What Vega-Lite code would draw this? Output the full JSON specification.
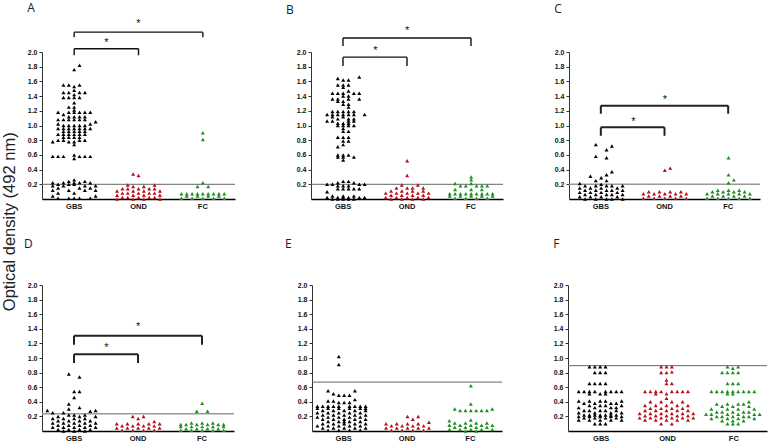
{
"$schema":"https://vega.github.io/schema/vega-lite/v6.json",
"padding":{"left":1,"top":2,"right":2,"bottom":2},
"background":"white",
"title":{"text":"Optical density (492 nm)","orient":"left","anchor":"middle","font":"Liberation Sans","fontSize":16.5,"fontWeight":"normal","color":"#222","offset":6},
"config":{"view":{"stroke":null},"title":{"font":"Open Sans","fontSize":12,"fontWeight":"normal","color":"#222","anchor":"start"},
"axisX":{"ticks":false,"labelAngle":0,"labelFont":"Liberation Sans","labelFontWeight":"bold","labelFontSize":7.5,"labelColor":"#111","domainColor":"#000","domainWidth":1.6,"labelPadding":3,"grid":false},
"axisY":{"labelFont":"Liberation Sans","labelFontWeight":"bold","labelFontSize":7,"labelColor":"#111","domainColor":"#333","tickColor":"#333","tickSize":3,"labelPadding":2,"grid":false,"labelOverlap":false,"labelBound":false,"tickCount":10}},
"datasets":{
"cut":[{"p":"A","v":0.2},{"p":"B","v":0.2},{"p":"C","v":0.2},{"p":"D","v":0.235},{"p":"E","v":0.67},{"p":"F","v":0.895}],
"br":[
{"p":"A","g1":"GBS","g2":"OND","y1":2.045,"y2":1.955,"ya":2.12,"ag":"GBS","ao":6},
{"p":"A","g1":"GBS","g2":"FC","y1":2.27,"y2":2.2,"ya":2.38,"ag":"OND","ao":0},
{"p":"B","g1":"GBS","g2":"OND","y1":1.93,"y2":1.81,"ya":2.01,"ag":"GBS","ao":6},
{"p":"B","g1":"GBS","g2":"FC","y1":2.19,"y2":2.08,"ya":2.28,"ag":"OND","ao":0},
{"p":"C","g1":"GBS","g2":"OND","y1":0.976,"y2":0.86,"ya":1.05,"ag":"GBS","ao":6},
{"p":"C","g1":"GBS","g2":"FC","y1":1.27,"y2":1.16,"ya":1.35,"ag":"OND","ao":0},
{"p":"D","g1":"GBS","g2":"OND","y1":1.05,"y2":0.93,"ya":1.14,"ag":"GBS","ao":6},
{"p":"D","g1":"GBS","g2":"FC","y1":1.305,"y2":1.18,"ya":1.43,"ag":"OND","ao":0}
],
"pts":[
{"p":"A","g":"GBS","v":1.82,"c":1},{"p":"A","g":"GBS","v":1.76,"c":0},
{"p":"A","g":"GBS","v":1.55,"c":-2},{"p":"A","g":"GBS","v":1.55,"c":-1},{"p":"A","g":"GBS","v":1.55,"c":1},{"p":"A","g":"GBS","v":1.53,"c":0},{"p":"A","g":"GBS","v":1.48,"c":0},
{"p":"A","g":"GBS","v":1.45,"c":-2},{"p":"A","g":"GBS","v":1.45,"c":-1},{"p":"A","g":"GBS","v":1.45,"c":1},{"p":"A","g":"GBS","v":1.45,"c":2},{"p":"A","g":"GBS","v":1.42,"c":0},
{"p":"A","g":"GBS","v":1.38,"c":-2},{"p":"A","g":"GBS","v":1.38,"c":-1},{"p":"A","g":"GBS","v":1.38,"c":0},{"p":"A","g":"GBS","v":1.38,"c":1},{"p":"A","g":"GBS","v":1.31,"c":0},
{"p":"A","g":"GBS","v":1.25,"c":-1},{"p":"A","g":"GBS","v":1.25,"c":0},{"p":"A","g":"GBS","v":1.21,"c":0},
{"p":"A","g":"GBS","v":1.18,"c":-3},{"p":"A","g":"GBS","v":1.18,"c":-1},{"p":"A","g":"GBS","v":1.18,"c":0},{"p":"A","g":"GBS","v":1.18,"c":1},{"p":"A","g":"GBS","v":1.18,"c":2},{"p":"A","g":"GBS","v":1.18,"c":3},
{"p":"A","g":"GBS","v":1.15,"c":-2},{"p":"A","g":"GBS","v":1.12,"c":-1},{"p":"A","g":"GBS","v":1.12,"c":0},{"p":"A","g":"GBS","v":1.12,"c":1},{"p":"A","g":"GBS","v":1.12,"c":2},
{"p":"A","g":"GBS","v":1.08,"c":-3},{"p":"A","g":"GBS","v":1.08,"c":-2},{"p":"A","g":"GBS","v":1.08,"c":-1},{"p":"A","g":"GBS","v":1.08,"c":0},{"p":"A","g":"GBS","v":1.08,"c":1},{"p":"A","g":"GBS","v":1.08,"c":2},
{"p":"A","g":"GBS","v":1.05,"c":4},{"p":"A","g":"GBS","v":1.02,"c":-3},{"p":"A","g":"GBS","v":1.02,"c":3},
{"p":"A","g":"GBS","v":1.0,"c":-2},{"p":"A","g":"GBS","v":1.0,"c":-1},{"p":"A","g":"GBS","v":1.0,"c":0},{"p":"A","g":"GBS","v":1.0,"c":1},{"p":"A","g":"GBS","v":1.0,"c":2},
{"p":"A","g":"GBS","v":0.96,"c":-3},{"p":"A","g":"GBS","v":0.96,"c":-2},{"p":"A","g":"GBS","v":0.96,"c":-1},{"p":"A","g":"GBS","v":0.96,"c":0},{"p":"A","g":"GBS","v":0.96,"c":1},{"p":"A","g":"GBS","v":0.96,"c":2},{"p":"A","g":"GBS","v":0.96,"c":3},
{"p":"A","g":"GBS","v":0.92,"c":-2},{"p":"A","g":"GBS","v":0.92,"c":-1},{"p":"A","g":"GBS","v":0.92,"c":0},{"p":"A","g":"GBS","v":0.92,"c":1},{"p":"A","g":"GBS","v":0.92,"c":2},
{"p":"A","g":"GBS","v":0.88,"c":-3},{"p":"A","g":"GBS","v":0.88,"c":-2},{"p":"A","g":"GBS","v":0.88,"c":-1},{"p":"A","g":"GBS","v":0.88,"c":0},{"p":"A","g":"GBS","v":0.88,"c":1},{"p":"A","g":"GBS","v":0.88,"c":2},
{"p":"A","g":"GBS","v":0.84,"c":-2},{"p":"A","g":"GBS","v":0.84,"c":-1},{"p":"A","g":"GBS","v":0.84,"c":0},{"p":"A","g":"GBS","v":0.84,"c":1},
{"p":"A","g":"GBS","v":0.8,"c":-3},{"p":"A","g":"GBS","v":0.8,"c":-2},{"p":"A","g":"GBS","v":0.8,"c":1},{"p":"A","g":"GBS","v":0.8,"c":2},
{"p":"A","g":"GBS","v":0.78,"c":-4},{"p":"A","g":"GBS","v":0.78,"c":-1},{"p":"A","g":"GBS","v":0.78,"c":0},{"p":"A","g":"GBS","v":0.74,"c":0},
{"p":"A","g":"GBS","v":0.6,"c":0},{"p":"A","g":"GBS","v":0.58,"c":-4},{"p":"A","g":"GBS","v":0.58,"c":-3},{"p":"A","g":"GBS","v":0.58,"c":-2},{"p":"A","g":"GBS","v":0.58,"c":1},{"p":"A","g":"GBS","v":0.58,"c":2},{"p":"A","g":"GBS","v":0.58,"c":3},{"p":"A","g":"GBS","v":0.55,"c":0},
{"p":"A","g":"GBS","v":0.26,"c":0},{"p":"A","g":"GBS","v":0.24,"c":-1},{"p":"A","g":"GBS","v":0.24,"c":2},
{"p":"A","g":"GBS","v":0.22,"c":-4},{"p":"A","g":"GBS","v":0.22,"c":-2},{"p":"A","g":"GBS","v":0.22,"c":0},{"p":"A","g":"GBS","v":0.22,"c":1},{"p":"A","g":"GBS","v":0.22,"c":3},
{"p":"A","g":"GBS","v":0.2,"c":-3},{"p":"A","g":"GBS","v":0.2,"c":-1},{"p":"A","g":"GBS","v":0.2,"c":0},
{"p":"A","g":"GBS","v":0.18,"c":-4},{"p":"A","g":"GBS","v":0.18,"c":-2},{"p":"A","g":"GBS","v":0.18,"c":2},{"p":"A","g":"GBS","v":0.18,"c":4},
{"p":"A","g":"GBS","v":0.15,"c":-3},{"p":"A","g":"GBS","v":0.15,"c":1},{"p":"A","g":"GBS","v":0.15,"c":3},
{"p":"A","g":"GBS","v":0.12,"c":-4},{"p":"A","g":"GBS","v":0.12,"c":-1},{"p":"A","g":"GBS","v":0.12,"c":2},{"p":"A","g":"GBS","v":0.12,"c":4},
{"p":"A","g":"GBS","v":0.08,"c":-3},{"p":"A","g":"GBS","v":0.08,"c":0},{"p":"A","g":"GBS","v":0.04,"c":-4},{"p":"A","g":"GBS","v":0.04,"c":4},
{"p":"A","g":"GBS","v":0.01,"c":-3},{"p":"A","g":"GBS","v":0.01,"c":-1},{"p":"A","g":"GBS","v":0.01,"c":0},{"p":"A","g":"GBS","v":0.01,"c":1},{"p":"A","g":"GBS","v":0.01,"c":3},
{"p":"A","g":"OND","v":0.34,"c":-1},{"p":"A","g":"OND","v":0.32,"c":0},{"p":"A","g":"OND","v":0.19,"c":-2},{"p":"A","g":"OND","v":0.19,"c":3},{"p":"A","g":"OND","v":0.17,"c":-1},{"p":"A","g":"OND","v":0.17,"c":1},
{"p":"A","g":"OND","v":0.14,"c":-3},{"p":"A","g":"OND","v":0.14,"c":-2},{"p":"A","g":"OND","v":0.14,"c":0},{"p":"A","g":"OND","v":0.14,"c":2},{"p":"A","g":"OND","v":0.14,"c":3},
{"p":"A","g":"OND","v":0.11,"c":-4},{"p":"A","g":"OND","v":0.11,"c":-1},{"p":"A","g":"OND","v":0.11,"c":1},{"p":"A","g":"OND","v":0.11,"c":4},
{"p":"A","g":"OND","v":0.08,"c":-3},{"p":"A","g":"OND","v":0.08,"c":-2},{"p":"A","g":"OND","v":0.08,"c":0},{"p":"A","g":"OND","v":0.08,"c":2},{"p":"A","g":"OND","v":0.08,"c":3},
{"p":"A","g":"OND","v":0.05,"c":-4},{"p":"A","g":"OND","v":0.05,"c":-1},{"p":"A","g":"OND","v":0.05,"c":1},{"p":"A","g":"OND","v":0.05,"c":4},
{"p":"A","g":"OND","v":0.02,"c":-3},{"p":"A","g":"OND","v":0.02,"c":-2},{"p":"A","g":"OND","v":0.02,"c":0},{"p":"A","g":"OND","v":0.02,"c":2},{"p":"A","g":"OND","v":0.02,"c":3},
{"p":"A","g":"OND","v":0.0,"c":-4},{"p":"A","g":"OND","v":0.0,"c":-1},{"p":"A","g":"OND","v":0.0,"c":1},{"p":"A","g":"OND","v":0.0,"c":4},
{"p":"A","g":"FC","v":0.9,"c":0},{"p":"A","g":"FC","v":0.81,"c":0},{"p":"A","g":"FC","v":0.22,"c":0},{"p":"A","g":"FC","v":0.17,"c":-1},{"p":"A","g":"FC","v":0.17,"c":1},
{"p":"A","g":"FC","v":0.07,"c":-4},{"p":"A","g":"FC","v":0.07,"c":-3},{"p":"A","g":"FC","v":0.07,"c":-2},{"p":"A","g":"FC","v":0.07,"c":-1},{"p":"A","g":"FC","v":0.07,"c":0},{"p":"A","g":"FC","v":0.07,"c":1},{"p":"A","g":"FC","v":0.07,"c":2},{"p":"A","g":"FC","v":0.07,"c":3},{"p":"A","g":"FC","v":0.07,"c":4},
{"p":"A","g":"FC","v":0.04,"c":-3},{"p":"A","g":"FC","v":0.04,"c":-1},{"p":"A","g":"FC","v":0.04,"c":1},{"p":"A","g":"FC","v":0.04,"c":3},
{"p":"A","g":"FC","v":0.01,"c":-4},{"p":"A","g":"FC","v":0.01,"c":-2},{"p":"A","g":"FC","v":0.01,"c":0},{"p":"A","g":"FC","v":0.01,"c":2},{"p":"A","g":"FC","v":0.01,"c":4},

{"p":"B","g":"GBS","v":1.66,"c":3},{"p":"B","g":"GBS","v":1.64,"c":-1},{"p":"B","g":"GBS","v":1.62,"c":0},{"p":"B","g":"GBS","v":1.62,"c":1},
{"p":"B","g":"GBS","v":1.55,"c":-1},{"p":"B","g":"GBS","v":1.55,"c":0},{"p":"B","g":"GBS","v":1.55,"c":1},{"p":"B","g":"GBS","v":1.52,"c":0},{"p":"B","g":"GBS","v":1.47,"c":1},
{"p":"B","g":"GBS","v":1.44,"c":-2},{"p":"B","g":"GBS","v":1.44,"c":-1},{"p":"B","g":"GBS","v":1.44,"c":0},{"p":"B","g":"GBS","v":1.44,"c":2},{"p":"B","g":"GBS","v":1.44,"c":3},
{"p":"B","g":"GBS","v":1.4,"c":0},{"p":"B","g":"GBS","v":1.4,"c":1},
{"p":"B","g":"GBS","v":1.36,"c":-2},{"p":"B","g":"GBS","v":1.36,"c":-1},{"p":"B","g":"GBS","v":1.36,"c":1},{"p":"B","g":"GBS","v":1.36,"c":3},
{"p":"B","g":"GBS","v":1.33,"c":-1},{"p":"B","g":"GBS","v":1.33,"c":0},{"p":"B","g":"GBS","v":1.29,"c":0},{"p":"B","g":"GBS","v":1.29,"c":1},{"p":"B","g":"GBS","v":1.25,"c":1},
{"p":"B","g":"GBS","v":1.19,"c":-2},{"p":"B","g":"GBS","v":1.19,"c":-1},{"p":"B","g":"GBS","v":1.19,"c":0},{"p":"B","g":"GBS","v":1.19,"c":1},{"p":"B","g":"GBS","v":1.19,"c":2},
{"p":"B","g":"GBS","v":1.15,"c":-3},{"p":"B","g":"GBS","v":1.15,"c":-2},{"p":"B","g":"GBS","v":1.15,"c":-1},{"p":"B","g":"GBS","v":1.15,"c":0},{"p":"B","g":"GBS","v":1.15,"c":1},{"p":"B","g":"GBS","v":1.15,"c":2},{"p":"B","g":"GBS","v":1.15,"c":4},
{"p":"B","g":"GBS","v":1.12,"c":-2},{"p":"B","g":"GBS","v":1.12,"c":0},{"p":"B","g":"GBS","v":1.09,"c":-1},{"p":"B","g":"GBS","v":1.09,"c":1},{"p":"B","g":"GBS","v":1.09,"c":2},
{"p":"B","g":"GBS","v":1.06,"c":-3},{"p":"B","g":"GBS","v":1.06,"c":-2},{"p":"B","g":"GBS","v":1.06,"c":1},{"p":"B","g":"GBS","v":1.06,"c":2},
{"p":"B","g":"GBS","v":1.03,"c":-1},{"p":"B","g":"GBS","v":1.03,"c":0},{"p":"B","g":"GBS","v":1.03,"c":1},
{"p":"B","g":"GBS","v":1.0,"c":-1},{"p":"B","g":"GBS","v":1.0,"c":0},{"p":"B","g":"GBS","v":1.0,"c":1},{"p":"B","g":"GBS","v":1.0,"c":2},
{"p":"B","g":"GBS","v":0.96,"c":0},{"p":"B","g":"GBS","v":0.92,"c":0},{"p":"B","g":"GBS","v":0.92,"c":1},
{"p":"B","g":"GBS","v":0.84,"c":-1},{"p":"B","g":"GBS","v":0.84,"c":0},{"p":"B","g":"GBS","v":0.84,"c":1},{"p":"B","g":"GBS","v":0.79,"c":0},{"p":"B","g":"GBS","v":0.79,"c":1},
{"p":"B","g":"GBS","v":0.74,"c":0},{"p":"B","g":"GBS","v":0.71,"c":-1},
{"p":"B","g":"GBS","v":0.6,"c":-1},{"p":"B","g":"GBS","v":0.6,"c":0},{"p":"B","g":"GBS","v":0.6,"c":1},{"p":"B","g":"GBS","v":0.57,"c":-1},{"p":"B","g":"GBS","v":0.57,"c":0},{"p":"B","g":"GBS","v":0.57,"c":2},{"p":"B","g":"GBS","v":0.53,"c":0},
{"p":"B","g":"GBS","v":0.24,"c":0},{"p":"B","g":"GBS","v":0.24,"c":1},{"p":"B","g":"GBS","v":0.22,"c":-1},{"p":"B","g":"GBS","v":0.22,"c":2},
{"p":"B","g":"GBS","v":0.2,"c":-3},{"p":"B","g":"GBS","v":0.2,"c":-2},{"p":"B","g":"GBS","v":0.2,"c":3},{"p":"B","g":"GBS","v":0.2,"c":4},
{"p":"B","g":"GBS","v":0.18,"c":-1},{"p":"B","g":"GBS","v":0.18,"c":0},{"p":"B","g":"GBS","v":0.18,"c":1},
{"p":"B","g":"GBS","v":0.14,"c":-1},{"p":"B","g":"GBS","v":0.14,"c":0},{"p":"B","g":"GBS","v":0.14,"c":1},{"p":"B","g":"GBS","v":0.14,"c":2},{"p":"B","g":"GBS","v":0.14,"c":3},
{"p":"B","g":"GBS","v":0.1,"c":-3},{"p":"B","g":"GBS","v":0.04,"c":-2},{"p":"B","g":"GBS","v":0.04,"c":0},{"p":"B","g":"GBS","v":0.04,"c":2},
{"p":"B","g":"GBS","v":0.02,"c":-3},{"p":"B","g":"GBS","v":0.02,"c":-1},{"p":"B","g":"GBS","v":0.02,"c":0},{"p":"B","g":"GBS","v":0.02,"c":1},{"p":"B","g":"GBS","v":0.02,"c":3},{"p":"B","g":"GBS","v":0.02,"c":4},
{"p":"B","g":"GBS","v":0.0,"c":-2},{"p":"B","g":"GBS","v":0.0,"c":-1},{"p":"B","g":"GBS","v":0.0,"c":0},{"p":"B","g":"GBS","v":0.0,"c":1},{"p":"B","g":"GBS","v":0.0,"c":2},
{"p":"B","g":"OND","v":0.52,"c":0},{"p":"B","g":"OND","v":0.32,"c":0},{"p":"B","g":"OND","v":0.19,"c":-1},{"p":"B","g":"OND","v":0.19,"c":2},
{"p":"B","g":"OND","v":0.15,"c":-2},{"p":"B","g":"OND","v":0.15,"c":0},{"p":"B","g":"OND","v":0.15,"c":1},{"p":"B","g":"OND","v":0.15,"c":3},
{"p":"B","g":"OND","v":0.11,"c":-3},{"p":"B","g":"OND","v":0.11,"c":-1},{"p":"B","g":"OND","v":0.11,"c":1},{"p":"B","g":"OND","v":0.11,"c":3},
{"p":"B","g":"OND","v":0.08,"c":-4},{"p":"B","g":"OND","v":0.08,"c":-2},{"p":"B","g":"OND","v":0.08,"c":0},{"p":"B","g":"OND","v":0.08,"c":2},{"p":"B","g":"OND","v":0.08,"c":4},
{"p":"B","g":"OND","v":0.05,"c":-3},{"p":"B","g":"OND","v":0.05,"c":-1},{"p":"B","g":"OND","v":0.05,"c":1},{"p":"B","g":"OND","v":0.05,"c":3},
{"p":"B","g":"OND","v":0.02,"c":-4},{"p":"B","g":"OND","v":0.02,"c":-2},{"p":"B","g":"OND","v":0.02,"c":0},{"p":"B","g":"OND","v":0.02,"c":2},{"p":"B","g":"OND","v":0.02,"c":4},
{"p":"B","g":"OND","v":0.0,"c":-3},{"p":"B","g":"OND","v":0.0,"c":-1},{"p":"B","g":"OND","v":0.0,"c":1},{"p":"B","g":"OND","v":0.0,"c":3},
{"p":"B","g":"FC","v":0.3,"c":0},{"p":"B","g":"FC","v":0.26,"c":0},{"p":"B","g":"FC","v":0.21,"c":-3},{"p":"B","g":"FC","v":0.21,"c":0},
{"p":"B","g":"FC","v":0.18,"c":-2},{"p":"B","g":"FC","v":0.18,"c":-1},{"p":"B","g":"FC","v":0.18,"c":1},{"p":"B","g":"FC","v":0.18,"c":2},{"p":"B","g":"FC","v":0.18,"c":3},
{"p":"B","g":"FC","v":0.13,"c":-3},{"p":"B","g":"FC","v":0.13,"c":0},{"p":"B","g":"FC","v":0.13,"c":2},
{"p":"B","g":"FC","v":0.07,"c":-4},{"p":"B","g":"FC","v":0.07,"c":-3},{"p":"B","g":"FC","v":0.07,"c":-2},{"p":"B","g":"FC","v":0.07,"c":-1},{"p":"B","g":"FC","v":0.07,"c":0},{"p":"B","g":"FC","v":0.07,"c":1},{"p":"B","g":"FC","v":0.07,"c":2},{"p":"B","g":"FC","v":0.07,"c":3},{"p":"B","g":"FC","v":0.07,"c":4},
{"p":"B","g":"FC","v":0.04,"c":-4},{"p":"B","g":"FC","v":0.04,"c":-2},{"p":"B","g":"FC","v":0.04,"c":0},{"p":"B","g":"FC","v":0.04,"c":2},{"p":"B","g":"FC","v":0.04,"c":4},
{"p":"B","g":"FC","v":0.01,"c":-3},{"p":"B","g":"FC","v":0.01,"c":-1},{"p":"B","g":"FC","v":0.01,"c":1},{"p":"B","g":"FC","v":0.01,"c":3},

{"p":"C","g":"GBS","v":0.74,"c":-1},{"p":"C","g":"GBS","v":0.72,"c":2},{"p":"C","g":"GBS","v":0.67,"c":1},{"p":"C","g":"GBS","v":0.58,"c":-1},{"p":"C","g":"GBS","v":0.56,"c":1},
{"p":"C","g":"GBS","v":0.37,"c":2},{"p":"C","g":"GBS","v":0.33,"c":1},{"p":"C","g":"GBS","v":0.31,"c":-2},{"p":"C","g":"GBS","v":0.29,"c":0},{"p":"C","g":"GBS","v":0.25,"c":-1},{"p":"C","g":"GBS","v":0.25,"c":1},
{"p":"C","g":"GBS","v":0.21,"c":-4},{"p":"C","g":"GBS","v":0.2,"c":0},
{"p":"C","g":"GBS","v":0.18,"c":-3},{"p":"C","g":"GBS","v":0.18,"c":-1},{"p":"C","g":"GBS","v":0.18,"c":1},{"p":"C","g":"GBS","v":0.18,"c":2},{"p":"C","g":"GBS","v":0.18,"c":4},
{"p":"C","g":"GBS","v":0.15,"c":-4},{"p":"C","g":"GBS","v":0.15,"c":-2},{"p":"C","g":"GBS","v":0.15,"c":0},{"p":"C","g":"GBS","v":0.15,"c":3},
{"p":"C","g":"GBS","v":0.12,"c":-3},{"p":"C","g":"GBS","v":0.12,"c":-1},{"p":"C","g":"GBS","v":0.12,"c":1},{"p":"C","g":"GBS","v":0.12,"c":2},{"p":"C","g":"GBS","v":0.12,"c":4},
{"p":"C","g":"GBS","v":0.09,"c":-4},{"p":"C","g":"GBS","v":0.09,"c":-2},{"p":"C","g":"GBS","v":0.09,"c":0},{"p":"C","g":"GBS","v":0.09,"c":3},
{"p":"C","g":"GBS","v":0.06,"c":-3},{"p":"C","g":"GBS","v":0.06,"c":-1},{"p":"C","g":"GBS","v":0.06,"c":1},{"p":"C","g":"GBS","v":0.06,"c":2},{"p":"C","g":"GBS","v":0.06,"c":4},
{"p":"C","g":"GBS","v":0.03,"c":-4},{"p":"C","g":"GBS","v":0.03,"c":-2},{"p":"C","g":"GBS","v":0.03,"c":0},{"p":"C","g":"GBS","v":0.03,"c":3},
{"p":"C","g":"GBS","v":0.0,"c":-3},{"p":"C","g":"GBS","v":0.0,"c":-1},{"p":"C","g":"GBS","v":0.0,"c":1},{"p":"C","g":"GBS","v":0.0,"c":2},{"p":"C","g":"GBS","v":0.0,"c":4},
{"p":"C","g":"OND","v":0.42,"c":1},{"p":"C","g":"OND","v":0.39,"c":0},
{"p":"C","g":"OND","v":0.1,"c":-3},{"p":"C","g":"OND","v":0.1,"c":-1},{"p":"C","g":"OND","v":0.1,"c":1},{"p":"C","g":"OND","v":0.1,"c":3},
{"p":"C","g":"OND","v":0.07,"c":-4},{"p":"C","g":"OND","v":0.07,"c":-2},{"p":"C","g":"OND","v":0.07,"c":0},{"p":"C","g":"OND","v":0.07,"c":2},{"p":"C","g":"OND","v":0.07,"c":4},
{"p":"C","g":"OND","v":0.04,"c":-3},{"p":"C","g":"OND","v":0.04,"c":-1},{"p":"C","g":"OND","v":0.04,"c":1},{"p":"C","g":"OND","v":0.04,"c":3},
{"p":"C","g":"OND","v":0.01,"c":-4},{"p":"C","g":"OND","v":0.01,"c":-2},{"p":"C","g":"OND","v":0.01,"c":0},{"p":"C","g":"OND","v":0.01,"c":2},{"p":"C","g":"OND","v":0.01,"c":4},
{"p":"C","g":"FC","v":0.56,"c":0},{"p":"C","g":"FC","v":0.33,"c":0},{"p":"C","g":"FC","v":0.26,"c":1},{"p":"C","g":"FC","v":0.22,"c":0},
{"p":"C","g":"FC","v":0.12,"c":-2},{"p":"C","g":"FC","v":0.12,"c":0},{"p":"C","g":"FC","v":0.12,"c":2},
{"p":"C","g":"FC","v":0.1,"c":-3},{"p":"C","g":"FC","v":0.1,"c":-1},{"p":"C","g":"FC","v":0.1,"c":1},{"p":"C","g":"FC","v":0.1,"c":3},
{"p":"C","g":"FC","v":0.07,"c":-4},{"p":"C","g":"FC","v":0.07,"c":-2},{"p":"C","g":"FC","v":0.07,"c":0},{"p":"C","g":"FC","v":0.07,"c":2},{"p":"C","g":"FC","v":0.07,"c":4},
{"p":"C","g":"FC","v":0.04,"c":-3},{"p":"C","g":"FC","v":0.04,"c":-1},{"p":"C","g":"FC","v":0.04,"c":1},{"p":"C","g":"FC","v":0.04,"c":3},
{"p":"C","g":"FC","v":0.01,"c":-4},{"p":"C","g":"FC","v":0.01,"c":-2},{"p":"C","g":"FC","v":0.01,"c":0},{"p":"C","g":"FC","v":0.01,"c":2},{"p":"C","g":"FC","v":0.01,"c":4},

{"p":"D","g":"GBS","v":0.78,"c":-1},{"p":"D","g":"GBS","v":0.74,"c":1},{"p":"D","g":"GBS","v":0.54,"c":0},{"p":"D","g":"GBS","v":0.54,"c":1},{"p":"D","g":"GBS","v":0.46,"c":0},
{"p":"D","g":"GBS","v":0.37,"c":-1},{"p":"D","g":"GBS","v":0.32,"c":1},{"p":"D","g":"GBS","v":0.3,"c":-1},{"p":"D","g":"GBS","v":0.28,"c":-5},{"p":"D","g":"GBS","v":0.28,"c":4},{"p":"D","g":"GBS","v":0.27,"c":3},
{"p":"D","g":"GBS","v":0.25,"c":-4},{"p":"D","g":"GBS","v":0.25,"c":-2},
{"p":"D","g":"GBS","v":0.22,"c":-1},{"p":"D","g":"GBS","v":0.22,"c":0},{"p":"D","g":"GBS","v":0.22,"c":2},
{"p":"D","g":"GBS","v":0.2,"c":-3},{"p":"D","g":"GBS","v":0.2,"c":1},{"p":"D","g":"GBS","v":0.2,"c":4},
{"p":"D","g":"GBS","v":0.17,"c":-4},{"p":"D","g":"GBS","v":0.17,"c":-2},{"p":"D","g":"GBS","v":0.17,"c":0},{"p":"D","g":"GBS","v":0.17,"c":2},
{"p":"D","g":"GBS","v":0.14,"c":-3},{"p":"D","g":"GBS","v":0.14,"c":-1},{"p":"D","g":"GBS","v":0.14,"c":1},{"p":"D","g":"GBS","v":0.14,"c":3},
{"p":"D","g":"GBS","v":0.11,"c":-4},{"p":"D","g":"GBS","v":0.11,"c":-2},{"p":"D","g":"GBS","v":0.11,"c":0},{"p":"D","g":"GBS","v":0.11,"c":2},{"p":"D","g":"GBS","v":0.11,"c":4},
{"p":"D","g":"GBS","v":0.08,"c":-3},{"p":"D","g":"GBS","v":0.08,"c":-1},{"p":"D","g":"GBS","v":0.08,"c":1},{"p":"D","g":"GBS","v":0.08,"c":3},
{"p":"D","g":"GBS","v":0.05,"c":-4},{"p":"D","g":"GBS","v":0.05,"c":-2},{"p":"D","g":"GBS","v":0.05,"c":0},{"p":"D","g":"GBS","v":0.05,"c":2},{"p":"D","g":"GBS","v":0.05,"c":4},
{"p":"D","g":"GBS","v":0.02,"c":-3},{"p":"D","g":"GBS","v":0.02,"c":-1},{"p":"D","g":"GBS","v":0.02,"c":1},{"p":"D","g":"GBS","v":0.02,"c":3},
{"p":"D","g":"GBS","v":0.0,"c":-2},{"p":"D","g":"GBS","v":0.0,"c":0},{"p":"D","g":"GBS","v":0.0,"c":2},
{"p":"D","g":"OND","v":0.2,"c":-1},{"p":"D","g":"OND","v":0.2,"c":1},{"p":"D","g":"OND","v":0.17,"c":0},{"p":"D","g":"OND","v":0.13,"c":3},
{"p":"D","g":"OND","v":0.1,"c":-4},{"p":"D","g":"OND","v":0.1,"c":-2},{"p":"D","g":"OND","v":0.1,"c":0},{"p":"D","g":"OND","v":0.1,"c":2},{"p":"D","g":"OND","v":0.1,"c":4},
{"p":"D","g":"OND","v":0.07,"c":-3},{"p":"D","g":"OND","v":0.07,"c":-1},{"p":"D","g":"OND","v":0.07,"c":1},{"p":"D","g":"OND","v":0.07,"c":3},
{"p":"D","g":"OND","v":0.04,"c":-4},{"p":"D","g":"OND","v":0.04,"c":-2},{"p":"D","g":"OND","v":0.04,"c":0},{"p":"D","g":"OND","v":0.04,"c":2},{"p":"D","g":"OND","v":0.04,"c":4},
{"p":"D","g":"OND","v":0.01,"c":-3},{"p":"D","g":"OND","v":0.01,"c":-1},{"p":"D","g":"OND","v":0.01,"c":1},{"p":"D","g":"OND","v":0.01,"c":3},
{"p":"D","g":"FC","v":0.38,"c":0},{"p":"D","g":"FC","v":0.27,"c":-1},{"p":"D","g":"FC","v":0.27,"c":1},
{"p":"D","g":"FC","v":0.11,"c":-2},{"p":"D","g":"FC","v":0.11,"c":0},{"p":"D","g":"FC","v":0.11,"c":2},
{"p":"D","g":"FC","v":0.09,"c":-4},{"p":"D","g":"FC","v":0.09,"c":-3},{"p":"D","g":"FC","v":0.09,"c":-1},{"p":"D","g":"FC","v":0.09,"c":1},{"p":"D","g":"FC","v":0.09,"c":3},{"p":"D","g":"FC","v":0.09,"c":4},
{"p":"D","g":"FC","v":0.06,"c":-4},{"p":"D","g":"FC","v":0.06,"c":-2},{"p":"D","g":"FC","v":0.06,"c":0},{"p":"D","g":"FC","v":0.06,"c":2},{"p":"D","g":"FC","v":0.06,"c":4},
{"p":"D","g":"FC","v":0.03,"c":-3},{"p":"D","g":"FC","v":0.03,"c":-1},{"p":"D","g":"FC","v":0.03,"c":1},{"p":"D","g":"FC","v":0.03,"c":3},
{"p":"D","g":"FC","v":0.01,"c":-4},{"p":"D","g":"FC","v":0.01,"c":-2},{"p":"D","g":"FC","v":0.01,"c":0},{"p":"D","g":"FC","v":0.01,"c":2},{"p":"D","g":"FC","v":0.01,"c":4},

{"p":"E","g":"GBS","v":1.02,"c":-1},{"p":"E","g":"GBS","v":0.91,"c":-1},{"p":"E","g":"GBS","v":0.55,"c":-3},{"p":"E","g":"GBS","v":0.55,"c":2},{"p":"E","g":"GBS","v":0.51,"c":-2},
{"p":"E","g":"GBS","v":0.49,"c":-1},{"p":"E","g":"GBS","v":0.49,"c":0},{"p":"E","g":"GBS","v":0.49,"c":1},{"p":"E","g":"GBS","v":0.43,"c":2},{"p":"E","g":"GBS","v":0.41,"c":-3},{"p":"E","g":"GBS","v":0.41,"c":-2},
{"p":"E","g":"GBS","v":0.39,"c":-1},{"p":"E","g":"GBS","v":0.39,"c":0},{"p":"E","g":"GBS","v":0.39,"c":1},
{"p":"E","g":"GBS","v":0.34,"c":-5},{"p":"E","g":"GBS","v":0.34,"c":-4},{"p":"E","g":"GBS","v":0.34,"c":-3},{"p":"E","g":"GBS","v":0.34,"c":-2},{"p":"E","g":"GBS","v":0.34,"c":-1},{"p":"E","g":"GBS","v":0.34,"c":1},{"p":"E","g":"GBS","v":0.34,"c":2},{"p":"E","g":"GBS","v":0.34,"c":3},{"p":"E","g":"GBS","v":0.34,"c":4},
{"p":"E","g":"GBS","v":0.31,"c":-5},{"p":"E","g":"GBS","v":0.31,"c":-3},{"p":"E","g":"GBS","v":0.31,"c":-1},{"p":"E","g":"GBS","v":0.31,"c":1},{"p":"E","g":"GBS","v":0.31,"c":3},{"p":"E","g":"GBS","v":0.31,"c":4},
{"p":"E","g":"GBS","v":0.28,"c":-4},{"p":"E","g":"GBS","v":0.28,"c":-2},{"p":"E","g":"GBS","v":0.28,"c":0},{"p":"E","g":"GBS","v":0.28,"c":2},{"p":"E","g":"GBS","v":0.28,"c":4},
{"p":"E","g":"GBS","v":0.25,"c":-5},{"p":"E","g":"GBS","v":0.25,"c":-3},{"p":"E","g":"GBS","v":0.25,"c":-1},{"p":"E","g":"GBS","v":0.25,"c":1},{"p":"E","g":"GBS","v":0.25,"c":3},
{"p":"E","g":"GBS","v":0.22,"c":-4},{"p":"E","g":"GBS","v":0.22,"c":-2},{"p":"E","g":"GBS","v":0.22,"c":0},{"p":"E","g":"GBS","v":0.22,"c":2},{"p":"E","g":"GBS","v":0.22,"c":4},
{"p":"E","g":"GBS","v":0.19,"c":-5},{"p":"E","g":"GBS","v":0.19,"c":-3},{"p":"E","g":"GBS","v":0.19,"c":-1},{"p":"E","g":"GBS","v":0.19,"c":1},{"p":"E","g":"GBS","v":0.19,"c":3},
{"p":"E","g":"GBS","v":0.16,"c":-4},{"p":"E","g":"GBS","v":0.16,"c":-2},{"p":"E","g":"GBS","v":0.16,"c":0},{"p":"E","g":"GBS","v":0.16,"c":2},{"p":"E","g":"GBS","v":0.16,"c":4},
{"p":"E","g":"GBS","v":0.13,"c":-3},{"p":"E","g":"GBS","v":0.13,"c":-1},{"p":"E","g":"GBS","v":0.13,"c":0},{"p":"E","g":"GBS","v":0.13,"c":1},{"p":"E","g":"GBS","v":0.13,"c":3},
{"p":"E","g":"GBS","v":0.1,"c":-4},{"p":"E","g":"GBS","v":0.1,"c":-2},{"p":"E","g":"GBS","v":0.1,"c":0},{"p":"E","g":"GBS","v":0.1,"c":2},{"p":"E","g":"GBS","v":0.1,"c":4},
{"p":"E","g":"GBS","v":0.07,"c":-5},{"p":"E","g":"GBS","v":0.07,"c":-3},{"p":"E","g":"GBS","v":0.07,"c":-1},{"p":"E","g":"GBS","v":0.07,"c":1},{"p":"E","g":"GBS","v":0.07,"c":3},
{"p":"E","g":"GBS","v":0.04,"c":-4},{"p":"E","g":"GBS","v":0.04,"c":-2},{"p":"E","g":"GBS","v":0.04,"c":0},{"p":"E","g":"GBS","v":0.04,"c":2},{"p":"E","g":"GBS","v":0.04,"c":4},
{"p":"E","g":"GBS","v":0.01,"c":-3},{"p":"E","g":"GBS","v":0.01,"c":-1},{"p":"E","g":"GBS","v":0.01,"c":1},{"p":"E","g":"GBS","v":0.01,"c":3},
{"p":"E","g":"OND","v":0.2,"c":0},{"p":"E","g":"OND","v":0.2,"c":2},{"p":"E","g":"OND","v":0.16,"c":1},{"p":"E","g":"OND","v":0.12,"c":4},
{"p":"E","g":"OND","v":0.1,"c":-4},{"p":"E","g":"OND","v":0.1,"c":-2},{"p":"E","g":"OND","v":0.1,"c":0},{"p":"E","g":"OND","v":0.1,"c":2},
{"p":"E","g":"OND","v":0.07,"c":-3},{"p":"E","g":"OND","v":0.07,"c":-1},{"p":"E","g":"OND","v":0.07,"c":1},{"p":"E","g":"OND","v":0.07,"c":3},
{"p":"E","g":"OND","v":0.04,"c":-4},{"p":"E","g":"OND","v":0.04,"c":-2},{"p":"E","g":"OND","v":0.04,"c":0},{"p":"E","g":"OND","v":0.04,"c":2},{"p":"E","g":"OND","v":0.04,"c":4},
{"p":"E","g":"OND","v":0.01,"c":-3},{"p":"E","g":"OND","v":0.01,"c":-1},{"p":"E","g":"OND","v":0.01,"c":1},{"p":"E","g":"OND","v":0.01,"c":3},
{"p":"E","g":"FC","v":0.62,"c":0},{"p":"E","g":"FC","v":0.37,"c":0},{"p":"E","g":"FC","v":0.3,"c":-3},{"p":"E","g":"FC","v":0.3,"c":4},
{"p":"E","g":"FC","v":0.28,"c":-2},{"p":"E","g":"FC","v":0.28,"c":-1},{"p":"E","g":"FC","v":0.28,"c":0},{"p":"E","g":"FC","v":0.28,"c":1},{"p":"E","g":"FC","v":0.28,"c":2},{"p":"E","g":"FC","v":0.28,"c":3},
{"p":"E","g":"FC","v":0.15,"c":0},{"p":"E","g":"FC","v":0.14,"c":-4},
{"p":"E","g":"FC","v":0.11,"c":-3},{"p":"E","g":"FC","v":0.11,"c":-1},{"p":"E","g":"FC","v":0.11,"c":1},{"p":"E","g":"FC","v":0.11,"c":3},
{"p":"E","g":"FC","v":0.08,"c":-4},{"p":"E","g":"FC","v":0.08,"c":-2},{"p":"E","g":"FC","v":0.08,"c":0},{"p":"E","g":"FC","v":0.08,"c":2},{"p":"E","g":"FC","v":0.08,"c":4},
{"p":"E","g":"FC","v":0.05,"c":-3},{"p":"E","g":"FC","v":0.05,"c":-1},{"p":"E","g":"FC","v":0.05,"c":1},{"p":"E","g":"FC","v":0.05,"c":3},
{"p":"E","g":"FC","v":0.02,"c":-4},{"p":"E","g":"FC","v":0.02,"c":-2},{"p":"E","g":"FC","v":0.02,"c":0},{"p":"E","g":"FC","v":0.02,"c":2},{"p":"E","g":"FC","v":0.02,"c":4},
{"p":"E","g":"FC","v":0.0,"c":-1},{"p":"E","g":"FC","v":0.0,"c":1},

{"p":"F","g":"GBS","v":0.88,"c":-2},{"p":"F","g":"GBS","v":0.88,"c":-1},{"p":"F","g":"GBS","v":0.88,"c":0},{"p":"F","g":"GBS","v":0.88,"c":1},
{"p":"F","g":"GBS","v":0.8,"c":-1},{"p":"F","g":"GBS","v":0.8,"c":0},{"p":"F","g":"GBS","v":0.8,"c":1},
{"p":"F","g":"GBS","v":0.65,"c":-2},{"p":"F","g":"GBS","v":0.65,"c":-1},{"p":"F","g":"GBS","v":0.65,"c":0},{"p":"F","g":"GBS","v":0.65,"c":1},
{"p":"F","g":"GBS","v":0.54,"c":-4},{"p":"F","g":"GBS","v":0.54,"c":-3},{"p":"F","g":"GBS","v":0.54,"c":-2},{"p":"F","g":"GBS","v":0.54,"c":-1},{"p":"F","g":"GBS","v":0.54,"c":1},{"p":"F","g":"GBS","v":0.54,"c":2},{"p":"F","g":"GBS","v":0.54,"c":3},{"p":"F","g":"GBS","v":0.54,"c":4},
{"p":"F","g":"GBS","v":0.51,"c":-2},{"p":"F","g":"GBS","v":0.51,"c":0},{"p":"F","g":"GBS","v":0.51,"c":1},
{"p":"F","g":"GBS","v":0.41,"c":-4},{"p":"F","g":"GBS","v":0.41,"c":-2},{"p":"F","g":"GBS","v":0.41,"c":0},{"p":"F","g":"GBS","v":0.41,"c":1},{"p":"F","g":"GBS","v":0.41,"c":4},
{"p":"F","g":"GBS","v":0.38,"c":-3},{"p":"F","g":"GBS","v":0.38,"c":-1},{"p":"F","g":"GBS","v":0.38,"c":2},{"p":"F","g":"GBS","v":0.38,"c":3},
{"p":"F","g":"GBS","v":0.35,"c":-2},{"p":"F","g":"GBS","v":0.35,"c":0},{"p":"F","g":"GBS","v":0.35,"c":1},{"p":"F","g":"GBS","v":0.35,"c":4},
{"p":"F","g":"GBS","v":0.32,"c":-4},{"p":"F","g":"GBS","v":0.32,"c":-1},{"p":"F","g":"GBS","v":0.32,"c":2},{"p":"F","g":"GBS","v":0.32,"c":3},
{"p":"F","g":"GBS","v":0.28,"c":-3},{"p":"F","g":"GBS","v":0.28,"c":-2},{"p":"F","g":"GBS","v":0.28,"c":0},{"p":"F","g":"GBS","v":0.28,"c":1},{"p":"F","g":"GBS","v":0.28,"c":3},
{"p":"F","g":"GBS","v":0.25,"c":-4},{"p":"F","g":"GBS","v":0.25,"c":-1},{"p":"F","g":"GBS","v":0.25,"c":2},{"p":"F","g":"GBS","v":0.25,"c":4},
{"p":"F","g":"GBS","v":0.22,"c":-3},{"p":"F","g":"GBS","v":0.22,"c":-2},{"p":"F","g":"GBS","v":0.22,"c":-1},{"p":"F","g":"GBS","v":0.22,"c":0},{"p":"F","g":"GBS","v":0.22,"c":1},{"p":"F","g":"GBS","v":0.22,"c":2},{"p":"F","g":"GBS","v":0.22,"c":3},
{"p":"F","g":"GBS","v":0.2,"c":-4},{"p":"F","g":"GBS","v":0.2,"c":-2},{"p":"F","g":"GBS","v":0.2,"c":0},{"p":"F","g":"GBS","v":0.2,"c":2},{"p":"F","g":"GBS","v":0.2,"c":4},
{"p":"F","g":"GBS","v":0.18,"c":-3},{"p":"F","g":"GBS","v":0.18,"c":-1},{"p":"F","g":"GBS","v":0.18,"c":1},{"p":"F","g":"GBS","v":0.18,"c":3},
{"p":"F","g":"GBS","v":0.15,"c":-4},{"p":"F","g":"GBS","v":0.15,"c":-2},{"p":"F","g":"GBS","v":0.15,"c":0},{"p":"F","g":"GBS","v":0.15,"c":2},{"p":"F","g":"GBS","v":0.15,"c":4},
{"p":"F","g":"GBS","v":0.1,"c":-1},{"p":"F","g":"GBS","v":0.1,"c":0},{"p":"F","g":"GBS","v":0.1,"c":1},
{"p":"F","g":"OND","v":0.88,"c":-1},{"p":"F","g":"OND","v":0.88,"c":0},{"p":"F","g":"OND","v":0.88,"c":1},
{"p":"F","g":"OND","v":0.8,"c":-1},{"p":"F","g":"OND","v":0.8,"c":0},{"p":"F","g":"OND","v":0.81,"c":1},{"p":"F","g":"OND","v":0.7,"c":0},
{"p":"F","g":"OND","v":0.65,"c":0},{"p":"F","g":"OND","v":0.65,"c":1},
{"p":"F","g":"OND","v":0.54,"c":-4},{"p":"F","g":"OND","v":0.54,"c":-3},{"p":"F","g":"OND","v":0.54,"c":-2},{"p":"F","g":"OND","v":0.54,"c":-1},{"p":"F","g":"OND","v":0.54,"c":1},{"p":"F","g":"OND","v":0.54,"c":2},{"p":"F","g":"OND","v":0.54,"c":3},{"p":"F","g":"OND","v":0.54,"c":4},
{"p":"F","g":"OND","v":0.51,"c":-2},{"p":"F","g":"OND","v":0.51,"c":0},{"p":"F","g":"OND","v":0.45,"c":0},
{"p":"F","g":"OND","v":0.4,"c":-3},{"p":"F","g":"OND","v":0.4,"c":-1},{"p":"F","g":"OND","v":0.4,"c":1},{"p":"F","g":"OND","v":0.4,"c":3},
{"p":"F","g":"OND","v":0.35,"c":-4},{"p":"F","g":"OND","v":0.35,"c":-2},{"p":"F","g":"OND","v":0.35,"c":0},{"p":"F","g":"OND","v":0.35,"c":2},{"p":"F","g":"OND","v":0.35,"c":4},
{"p":"F","g":"OND","v":0.31,"c":-3},{"p":"F","g":"OND","v":0.31,"c":-1},{"p":"F","g":"OND","v":0.31,"c":1},{"p":"F","g":"OND","v":0.31,"c":3},
{"p":"F","g":"OND","v":0.28,"c":-4},{"p":"F","g":"OND","v":0.28,"c":-2},{"p":"F","g":"OND","v":0.28,"c":0},{"p":"F","g":"OND","v":0.28,"c":2},{"p":"F","g":"OND","v":0.28,"c":4},
{"p":"F","g":"OND","v":0.24,"c":-5},{"p":"F","g":"OND","v":0.24,"c":-3},{"p":"F","g":"OND","v":0.24,"c":-1},{"p":"F","g":"OND","v":0.24,"c":1},{"p":"F","g":"OND","v":0.24,"c":3},{"p":"F","g":"OND","v":0.24,"c":5},
{"p":"F","g":"OND","v":0.21,"c":-4},{"p":"F","g":"OND","v":0.21,"c":-2},{"p":"F","g":"OND","v":0.21,"c":0},{"p":"F","g":"OND","v":0.21,"c":2},{"p":"F","g":"OND","v":0.21,"c":4},
{"p":"F","g":"OND","v":0.18,"c":-5},{"p":"F","g":"OND","v":0.18,"c":-3},{"p":"F","g":"OND","v":0.18,"c":-1},{"p":"F","g":"OND","v":0.18,"c":1},{"p":"F","g":"OND","v":0.18,"c":3},{"p":"F","g":"OND","v":0.18,"c":5},
{"p":"F","g":"OND","v":0.15,"c":-4},{"p":"F","g":"OND","v":0.15,"c":-2},{"p":"F","g":"OND","v":0.15,"c":0},{"p":"F","g":"OND","v":0.15,"c":2},{"p":"F","g":"OND","v":0.15,"c":4},
{"p":"F","g":"OND","v":0.1,"c":-1},{"p":"F","g":"OND","v":0.1,"c":1},
{"p":"F","g":"FC","v":0.88,"c":-1},{"p":"F","g":"FC","v":0.88,"c":1},{"p":"F","g":"FC","v":0.86,"c":0},
{"p":"F","g":"FC","v":0.8,"c":-2},{"p":"F","g":"FC","v":0.8,"c":-1},{"p":"F","g":"FC","v":0.8,"c":0},{"p":"F","g":"FC","v":0.8,"c":1},
{"p":"F","g":"FC","v":0.65,"c":-1},{"p":"F","g":"FC","v":0.65,"c":0},{"p":"F","g":"FC","v":0.65,"c":1},
{"p":"F","g":"FC","v":0.54,"c":-4},{"p":"F","g":"FC","v":0.54,"c":-3},{"p":"F","g":"FC","v":0.54,"c":-2},{"p":"F","g":"FC","v":0.54,"c":-1},{"p":"F","g":"FC","v":0.54,"c":0},{"p":"F","g":"FC","v":0.54,"c":1},{"p":"F","g":"FC","v":0.54,"c":2},{"p":"F","g":"FC","v":0.54,"c":3},{"p":"F","g":"FC","v":0.54,"c":4},
{"p":"F","g":"FC","v":0.51,"c":-1},{"p":"F","g":"FC","v":0.51,"c":0},{"p":"F","g":"FC","v":0.4,"c":3},
{"p":"F","g":"FC","v":0.37,"c":-3},{"p":"F","g":"FC","v":0.37,"c":-1},{"p":"F","g":"FC","v":0.37,"c":1},{"p":"F","g":"FC","v":0.37,"c":2},
{"p":"F","g":"FC","v":0.34,"c":-2},{"p":"F","g":"FC","v":0.34,"c":0},{"p":"F","g":"FC","v":0.34,"c":3},
{"p":"F","g":"FC","v":0.3,"c":-4},{"p":"F","g":"FC","v":0.3,"c":-1},{"p":"F","g":"FC","v":0.3,"c":1},{"p":"F","g":"FC","v":0.3,"c":4},
{"p":"F","g":"FC","v":0.26,"c":-3},{"p":"F","g":"FC","v":0.26,"c":-2},{"p":"F","g":"FC","v":0.26,"c":0},{"p":"F","g":"FC","v":0.26,"c":2},{"p":"F","g":"FC","v":0.26,"c":3},
{"p":"F","g":"FC","v":0.23,"c":-5},{"p":"F","g":"FC","v":0.23,"c":-4},{"p":"F","g":"FC","v":0.23,"c":-1},{"p":"F","g":"FC","v":0.23,"c":1},{"p":"F","g":"FC","v":0.23,"c":4},{"p":"F","g":"FC","v":0.23,"c":5},
{"p":"F","g":"FC","v":0.2,"c":-3},{"p":"F","g":"FC","v":0.2,"c":-2},{"p":"F","g":"FC","v":0.2,"c":0},{"p":"F","g":"FC","v":0.2,"c":2},{"p":"F","g":"FC","v":0.2,"c":3},
{"p":"F","g":"FC","v":0.17,"c":-4},{"p":"F","g":"FC","v":0.17,"c":-1},{"p":"F","g":"FC","v":0.17,"c":1},{"p":"F","g":"FC","v":0.17,"c":4},
{"p":"F","g":"FC","v":0.14,"c":-2},{"p":"F","g":"FC","v":0.14,"c":0},{"p":"F","g":"FC","v":0.14,"c":2},
{"p":"F","g":"FC","v":0.1,"c":-1},{"p":"F","g":"FC","v":0.1,"c":0},{"p":"F","g":"FC","v":0.1,"c":1}
]},
"vconcat":[
{"hconcat":[
{"width":193,"height":147,"title":{"text":"A","offset":3},
"layer":[
{"data":{"name":"cut"},"transform":[{"filter":"datum.p==='A'"}],"mark":{"type":"rule","color":"#666","strokeWidth":1},"encoding":{"y":{"field":"v","type":"quantitative","title":null}}},
{"data":{"name":"pts"},"transform":[{"filter":"datum.p==='A'"}],"mark":{"type":"point","shape":"triangle-up","filled":true,"size":16,"opacity":1},"encoding":{"x":{"field":"g","type":"nominal","title":null,"scale":{"domain":["GBS","OND","FC"],"paddingInner":0,"paddingOuter":0}},"xOffset":{"field":"c","type":"quantitative","scale":{"domain":[-6,6]}},"y":{"field":"v","type":"quantitative","title":null,"scale":{"domain":[0,2],"nice":false},"axis":{"values":[0.2,0.4,0.6,0.8,1.0,1.2,1.4,1.6,1.8,2.0],"tickCount":10,"format":".1f","labelOverlap":false}},"color":{"field":"g","type":"nominal","legend":null,"scale":{"domain":["GBS","OND","FC"],"range":["#000000","#b3121b","#1f8f1f"]}}}},
{"data":{"name":"br"},"transform":[{"filter":"datum.p==='A'"}],"mark":{"type":"rule","color":"#111","strokeWidth":1.4},"encoding":{"x":{"field":"g1","type":"nominal","title":null},"x2":{"field":"g2"},"y":{"field":"y1","type":"quantitative","title":null}}},
{"data":{"name":"br"},"transform":[{"filter":"datum.p==='A'"}],"mark":{"type":"rule","color":"#111","strokeWidth":1.4},"encoding":{"x":{"field":"g1","type":"nominal","title":null},"y":{"field":"y1","type":"quantitative","title":null},"y2":{"field":"y2"}}},
{"data":{"name":"br"},"transform":[{"filter":"datum.p==='A'"}],"mark":{"type":"rule","color":"#111","strokeWidth":1.4},"encoding":{"x":{"field":"g2","type":"nominal","title":null},"y":{"field":"y1","type":"quantitative","title":null},"y2":{"field":"y2"}}},
{"data":{"name":"br"},"transform":[{"filter":"datum.p==='A'"}],"mark":{"type":"text","text":"*","font":"Liberation Sans","fontSize":11,"color":"#111","baseline":"middle"},"encoding":{"x":{"field":"ag","type":"nominal","title":null},"xOffset":{"field":"ao","type":"quantitative","scale":{"domain":[-6,6]}},"y":{"field":"ya","type":"quantitative","title":null}}}
]},
{"width":192,"height":147,"title":{"text":"B","offset":8},
"layer":[
{"data":{"name":"cut"},"transform":[{"filter":"datum.p==='B'"}],"mark":{"type":"rule","color":"#666","strokeWidth":1},"encoding":{"y":{"field":"v","type":"quantitative","title":null}}},
{"data":{"name":"pts"},"transform":[{"filter":"datum.p==='B'"}],"mark":{"type":"point","shape":"triangle-up","filled":true,"size":16,"opacity":1},"encoding":{"x":{"field":"g","type":"nominal","title":null,"scale":{"domain":["GBS","OND","FC"],"paddingInner":0,"paddingOuter":0}},"xOffset":{"field":"c","type":"quantitative","scale":{"domain":[-6,6]}},"y":{"field":"v","type":"quantitative","title":null,"scale":{"domain":[0,2],"nice":false},"axis":{"values":[0.2,0.4,0.6,0.8,1.0,1.2,1.4,1.6,1.8,2.0],"tickCount":10,"format":".1f","labelOverlap":false,"minExtent":25}},"color":{"field":"g","type":"nominal","legend":null,"scale":{"domain":["GBS","OND","FC"],"range":["#000000","#b3121b","#1f8f1f"]}}}},
{"data":{"name":"br"},"transform":[{"filter":"datum.p==='B'"}],"mark":{"type":"rule","color":"#111","strokeWidth":1.4},"encoding":{"x":{"field":"g1","type":"nominal","title":null},"x2":{"field":"g2"},"y":{"field":"y1","type":"quantitative","title":null}}},
{"data":{"name":"br"},"transform":[{"filter":"datum.p==='B'"}],"mark":{"type":"rule","color":"#111","strokeWidth":1.4},"encoding":{"x":{"field":"g1","type":"nominal","title":null},"y":{"field":"y1","type":"quantitative","title":null},"y2":{"field":"y2"}}},
{"data":{"name":"br"},"transform":[{"filter":"datum.p==='B'"}],"mark":{"type":"rule","color":"#111","strokeWidth":1.4},"encoding":{"x":{"field":"g2","type":"nominal","title":null},"y":{"field":"y1","type":"quantitative","title":null},"y2":{"field":"y2"}}},
{"data":{"name":"br"},"transform":[{"filter":"datum.p==='B'"}],"mark":{"type":"text","text":"*","font":"Liberation Sans","fontSize":11,"color":"#111","baseline":"middle"},"encoding":{"x":{"field":"ag","type":"nominal","title":null},"xOffset":{"field":"ao","type":"quantitative","scale":{"domain":[-6,6]}},"y":{"field":"ya","type":"quantitative","title":null}}}
]},
{"width":191,"height":147,"title":{"text":"C","offset":32},
"layer":[
{"data":{"name":"cut"},"transform":[{"filter":"datum.p==='C'"}],"mark":{"type":"rule","color":"#999","strokeWidth":1.5},"encoding":{"y":{"field":"v","type":"quantitative","title":null}}},
{"data":{"name":"pts"},"transform":[{"filter":"datum.p==='C'"}],"mark":{"type":"point","shape":"triangle-up","filled":true,"size":16,"opacity":1},"encoding":{"x":{"field":"g","type":"nominal","title":null,"scale":{"domain":["GBS","OND","FC"],"paddingInner":0,"paddingOuter":0}},"xOffset":{"field":"c","type":"quantitative","scale":{"domain":[-6,6]}},"y":{"field":"v","type":"quantitative","title":null,"scale":{"domain":[0,2],"nice":false},"axis":{"values":[0.2,0.4,0.6,0.8,1.0,1.2,1.4,1.6,1.8,2.0],"tickCount":10,"format":".1f","labelOverlap":false}},"color":{"field":"g","type":"nominal","legend":null,"scale":{"domain":["GBS","OND","FC"],"range":["#000000","#b3121b","#1f8f1f"]}}}},
{"data":{"name":"br"},"transform":[{"filter":"datum.p==='C'"}],"mark":{"type":"rule","color":"#222","strokeWidth":2},"encoding":{"x":{"field":"g1","type":"nominal","title":null},"x2":{"field":"g2"},"y":{"field":"y1","type":"quantitative","title":null}}},
{"data":{"name":"br"},"transform":[{"filter":"datum.p==='C'"}],"mark":{"type":"rule","color":"#222","strokeWidth":2},"encoding":{"x":{"field":"g1","type":"nominal","title":null},"y":{"field":"y1","type":"quantitative","title":null},"y2":{"field":"y2"}}},
{"data":{"name":"br"},"transform":[{"filter":"datum.p==='C'"}],"mark":{"type":"rule","color":"#222","strokeWidth":2},"encoding":{"x":{"field":"g2","type":"nominal","title":null},"y":{"field":"y1","type":"quantitative","title":null},"y2":{"field":"y2"}}},
{"data":{"name":"br"},"transform":[{"filter":"datum.p==='C'"}],"mark":{"type":"text","text":"*","font":"Liberation Sans","fontSize":11,"color":"#111","baseline":"middle"},"encoding":{"x":{"field":"ag","type":"nominal","title":null},"xOffset":{"field":"ao","type":"quantitative","scale":{"domain":[-6,6]}},"y":{"field":"ya","type":"quantitative","title":null}}}
]}
],"spacing":50},
{"hconcat":[
{"width":192,"height":146,"title":{"text":"D","offset":30},
"layer":[
{"data":{"name":"cut"},"transform":[{"filter":"datum.p==='D'"}],"mark":{"type":"rule","color":"#999","strokeWidth":1.5},"encoding":{"y":{"field":"v","type":"quantitative","title":null}}},
{"data":{"name":"pts"},"transform":[{"filter":"datum.p==='D'"}],"mark":{"type":"point","shape":"triangle-up","filled":true,"size":16,"opacity":1},"encoding":{"x":{"field":"g","type":"nominal","title":null,"scale":{"domain":["GBS","OND","FC"],"paddingInner":0,"paddingOuter":0}},"xOffset":{"field":"c","type":"quantitative","scale":{"domain":[-6,6]}},"y":{"field":"v","type":"quantitative","title":null,"scale":{"domain":[0,2],"nice":false},"axis":{"values":[0.2,0.4,0.6,0.8,1.0,1.2,1.4,1.6,1.8,2.0],"tickCount":10,"format":".1f","labelOverlap":false,"minExtent":18}},"color":{"field":"g","type":"nominal","legend":null,"scale":{"domain":["GBS","OND","FC"],"range":["#000000","#b3121b","#1f8f1f"]}}}},
{"data":{"name":"br"},"transform":[{"filter":"datum.p==='D'"}],"mark":{"type":"rule","color":"#222","strokeWidth":2},"encoding":{"x":{"field":"g1","type":"nominal","title":null},"x2":{"field":"g2"},"y":{"field":"y1","type":"quantitative","title":null}}},
{"data":{"name":"br"},"transform":[{"filter":"datum.p==='D'"}],"mark":{"type":"rule","color":"#222","strokeWidth":2},"encoding":{"x":{"field":"g1","type":"nominal","title":null},"y":{"field":"y1","type":"quantitative","title":null},"y2":{"field":"y2"}}},
{"data":{"name":"br"},"transform":[{"filter":"datum.p==='D'"}],"mark":{"type":"rule","color":"#222","strokeWidth":2},"encoding":{"x":{"field":"g2","type":"nominal","title":null},"y":{"field":"y1","type":"quantitative","title":null},"y2":{"field":"y2"}}},
{"data":{"name":"br"},"transform":[{"filter":"datum.p==='D'"}],"mark":{"type":"text","text":"*","font":"Liberation Sans","fontSize":11,"color":"#111","baseline":"middle"},"encoding":{"x":{"field":"ag","type":"nominal","title":null},"xOffset":{"field":"ao","type":"quantitative","scale":{"domain":[-6,6]}},"y":{"field":"ya","type":"quantitative","title":null}}}
]},
{"width":190,"height":146,"title":{"text":"E","offset":30},
"layer":[
{"data":{"name":"cut"},"transform":[{"filter":"datum.p==='E'"}],"mark":{"type":"rule","color":"#666","strokeWidth":1},"encoding":{"y":{"field":"v","type":"quantitative","title":null}}},
{"data":{"name":"pts"},"transform":[{"filter":"datum.p==='E'"}],"mark":{"type":"point","shape":"triangle-up","filled":true,"size":16,"opacity":1},"encoding":{"x":{"field":"g","type":"nominal","title":null,"scale":{"domain":["GBS","OND","FC"],"paddingInner":0,"paddingOuter":0}},"xOffset":{"field":"c","type":"quantitative","scale":{"domain":[-6,6]}},"y":{"field":"v","type":"quantitative","title":null,"scale":{"domain":[0,2],"nice":false},"axis":{"values":[0.2,0.4,0.6,0.8,1.0,1.2,1.4,1.6,1.8,2.0],"tickCount":10,"format":".1f","labelOverlap":false,"minExtent":27}},"color":{"field":"g","type":"nominal","legend":null,"scale":{"domain":["GBS","OND","FC"],"range":["#000000","#b3121b","#1f8f1f"]}}}}
]},
{"width":199,"height":146,"title":{"text":"F","offset":30},
"layer":[
{"data":{"name":"cut"},"transform":[{"filter":"datum.p==='F'"}],"mark":{"type":"rule","color":"#666","strokeWidth":1},"encoding":{"y":{"field":"v","type":"quantitative","title":null}}},
{"data":{"name":"pts"},"transform":[{"filter":"datum.p==='F'"}],"mark":{"type":"point","shape":"triangle-up","filled":true,"size":16,"opacity":1},"encoding":{"x":{"field":"g","type":"nominal","title":null,"scale":{"domain":["GBS","OND","FC"],"paddingInner":0,"paddingOuter":0}},"xOffset":{"field":"c","type":"quantitative","scale":{"domain":[-6,6]}},"y":{"field":"v","type":"quantitative","title":null,"scale":{"domain":[0,2],"nice":false},"axis":{"values":[0.2,0.4,0.6,0.8,1.0,1.2,1.4,1.6,1.8,2.0],"tickCount":10,"format":".1f","labelOverlap":false}},"color":{"field":"g","type":"nominal","legend":null,"scale":{"domain":["GBS","OND","FC"],"range":["#000000","#b3121b","#1f8f1f"]}}}}
]}
],"spacing":50}
],
"spacing":28
}
